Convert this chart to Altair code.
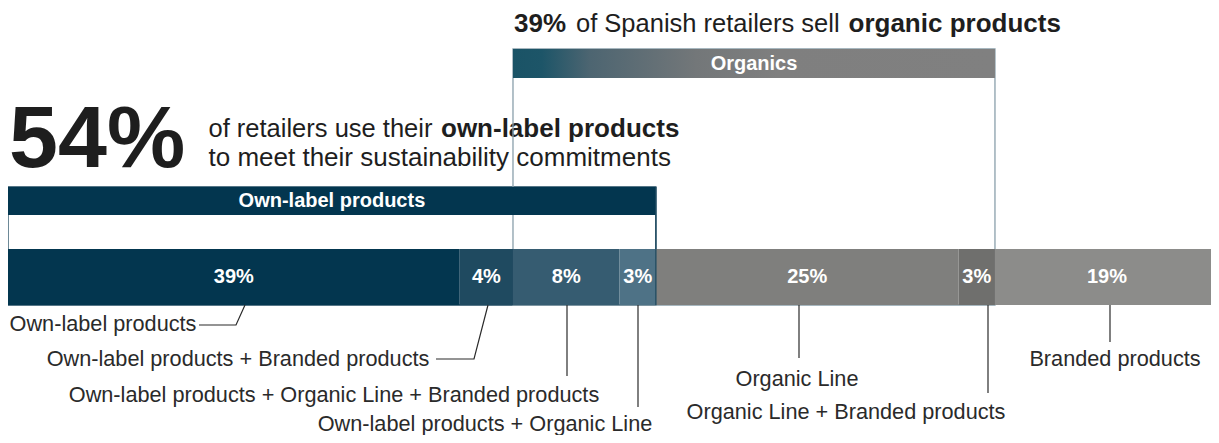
import altair as alt
import pandas as pd

# ---------------- data ----------------
segments = [
    "Own-label products",
    "Own-label products + Branded products",
    "Own-label products + Organic Line + Branded products",
    "Own-label products + Organic Line",
    "Organic Line",
    "Organic Line + Branded products",
    "Branded products",
]
# shares as drawn (bar widths); value_labels as printed on the bar
shares = [37.3, 4.4, 8.8, 3.0, 25.0, 3.0, 18.5]
value_labels = ["39%", "4%", "8%", "3%", "25%", "3%", "19%"]

group_names = ["Own-label products", "Organics"]
group_first = [0, 2]
group_last = [3, 5]

headline_organic = ["39%", "of Spanish retailers sell", "organic products"]
headline_own = ["54%", "of retailers use their", "own-label products",
                "to meet their sustainability commitments"]

# ---------------- styles / layout ----------------
seg_colors = ["#03364f", "#1f4a60", "#365c71", "#4e7286", "#7f7f7d", "#6f6f6d", "#8c8c8a"]
group_stroke = ["#1f4a60", "#8aa0ab"]
TEXT = "#1e1e1e"
LABEL_TEXT = "#2a2a2a"
FONT = "Liberation Sans"

PAGE = 8
W, H = 1203, 427          # svg size (fits the window with the page margins)
SPAN = 1211               # pixel length of the 0..100 scale


def u(px):
    """page pixel x -> x data units"""
    return (px - PAGE) / SPAN * 100


BAR_TOP, BAR_BOT = 249, 305
HEAD_TOP = [187, 49]
HEAD_BOT = [215, 78]

leader_paths = [
    [(245, 305), (236, 325), (199, 325)],
    [(488, 305), (474, 359), (436, 359)],
    [(567, 305), (567, 376)],
    [(638, 305), (638, 407)],
    [(799, 305), (799, 358)],
    [(988, 305), (988, 393)],
    [(1110, 305), (1110, 342)],
]
leader_text_pos = [(103, 324), (238, 359), (334, 395), (485, 424),
                   (797, 379), (846, 412), (1115, 359)]

# ---------------- tables ----------------
starts, ends = [], []
acc = 0.0
for s in shares:
    starts.append(acc)
    acc += s
    ends.append(acc)

seg_df = pd.DataFrame({
    "segment": segments,
    "start": starts,
    "end": ends,
    "mid": [(a + b) / 2 for a, b in zip(starts, ends)],
    "label": value_labels,
    "color": seg_colors,
    "top": BAR_TOP,
    "bot": BAR_BOT,
    "ly": (BAR_TOP + BAR_BOT) / 2,
})

grp_df = pd.DataFrame({
    "group": group_names,
    "start": [starts[i] for i in group_first],
    "end": [ends[i] for i in group_last],
    "htop": HEAD_TOP,
    "hbot": HEAD_BOT,
    "btop": HEAD_TOP,
    "bbot": BAR_BOT,
    "stroke": group_stroke,
})
grp_df["mid"] = (grp_df["start"] + grp_df["end"]) / 2
grp_df["hy"] = (grp_df["htop"] + grp_df["hbot"]) / 2

lead_rows = []
for i, path in enumerate(leader_paths):
    for k, (px, py) in enumerate(path):
        lead_rows.append({"segment": segments[i], "step": k, "x": u(px), "y": py})
lead_df = pd.DataFrame(lead_rows)

lt_df = pd.DataFrame({
    "text": segments,
    "x": [u(p[0]) for p in leader_text_pos],
    "y": [p[1] for p in leader_text_pos],
})

bold_df = pd.DataFrame({
    "text": [headline_organic[0], headline_organic[2], headline_own[2]],
    "x": [u(514), u(848.5), u(441)],
    "y": [32, 32, 137],
    "size": [26, 26, 26],
})
reg_df = pd.DataFrame({
    "text": [headline_organic[1], headline_own[1], headline_own[3]],
    "x": [u(576), u(208.5), u(208.5)],
    "y": [32, 137, 166],
    "size": [25.5, 25.5, 26],
})
big_df = pd.DataFrame({"text": [headline_own[0]], "x": [u(9)], "y": [167]})

# ---------------- scales ----------------
xs = alt.Scale(domain=[0, 100], range=[0, SPAN], nice=False, zero=False)
ys = alt.Scale(domain=[PAGE, PAGE + H], range=[0, H], nice=False, zero=False)


def X(f):
    return alt.X(f, type="quantitative", scale=xs, axis=None)


def Y(f):
    return alt.Y(f, type="quantitative", scale=ys, axis=None)


# ---------------- layers ----------------
reg_text = alt.Chart(reg_df).mark_text(
    align="left", baseline="alphabetic", font=FONT, color=TEXT
).encode(x=X("x"), y=Y("y"), text="text:N", size=alt.Size("size:Q", scale=None))

bold_text = alt.Chart(bold_df).mark_text(
    align="left", baseline="alphabetic", font=FONT, fontWeight="bold", color=TEXT
).encode(x=X("x"), y=Y("y"), text="text:N", size=alt.Size("size:Q", scale=None))

big_text = alt.Chart(big_df).mark_text(
    align="left", baseline="alphabetic", font=FONT, fontWeight="bold", color=TEXT,
    fontSize=88
).encode(x=X("x"), y=Y("y"), text="text:N")

outlines = alt.Chart(grp_df).mark_rect(fillOpacity=0, strokeWidth=1.3).encode(
    x=X("start"), x2="end", y=Y("btop"), y2="bbot",
    stroke=alt.Stroke("stroke:N", scale=None),
)

own_head = alt.Chart(grp_df.iloc[[0]]).mark_rect(fill="#03364f").encode(
    x=X("start"), x2="end", y=Y("htop"), y2="hbot"
)

gradient = alt.Gradient(
    gradient="linear",
    stops=[
        alt.GradientStop(color="#1a5366", offset=0),
        alt.GradientStop(color="#1d5568", offset=0.06),
        alt.GradientStop(color="#4d6571", offset=0.16),
        alt.GradientStop(color="#737779", offset=0.38),
        alt.GradientStop(color="#7f7f7f", offset=0.55),
        alt.GradientStop(color="#808080", offset=1),
    ],
    x1=0, x2=1, y1=0, y2=0,
)
org_head = alt.Chart(grp_df.iloc[[1]]).mark_rect(fill=gradient).encode(
    x=X("start"), x2="end", y=Y("htop"), y2="hbot"
)

head_text = alt.Chart(grp_df).mark_text(
    font=FONT, fontWeight="bold", fontSize=20, color="white", baseline="middle"
).encode(x=X("mid"), y=Y("hy"), text="group:N")

bars = alt.Chart(seg_df).mark_rect().encode(
    x=X("start"), x2="end", y=Y("top"), y2="bot",
    fill=alt.Fill("color:N", scale=None),
)

own_edge = alt.Chart(grp_df.iloc[[0]]).mark_rule(color="#1f4a60", strokeWidth=1.3).encode(
    x=X("end"), y=Y("btop"), y2="bbot"
)

bar_text = alt.Chart(seg_df).mark_text(
    font=FONT, fontWeight="bold", fontSize=20, color="white", baseline="middle"
).encode(x=X("mid"), y=Y("ly"), text="label:N")

leaders = alt.Chart(lead_df).mark_line(color="#2a2a2a", strokeWidth=1.2).encode(
    x=X("x"), y=Y("y"), detail="segment:N", order="step:Q"
)

leader_text = alt.Chart(lt_df).mark_text(
    font=FONT, fontSize=21.7, color=LABEL_TEXT, baseline="middle", align="center"
).encode(x=X("x"), y=Y("y"), text="text:N")

chart = alt.layer(
    reg_text, bold_text, big_text,
    outlines, own_head, org_head, head_text,
    bars, own_edge, bar_text,
    leaders, leader_text,
).properties(
    width=W, height=H, padding=0,
    autosize=alt.AutoSizeParams(type="none"),
).configure_view(strokeWidth=0)

chart.save("out.html", embed_options={"renderer": "svg", "actions": False})
